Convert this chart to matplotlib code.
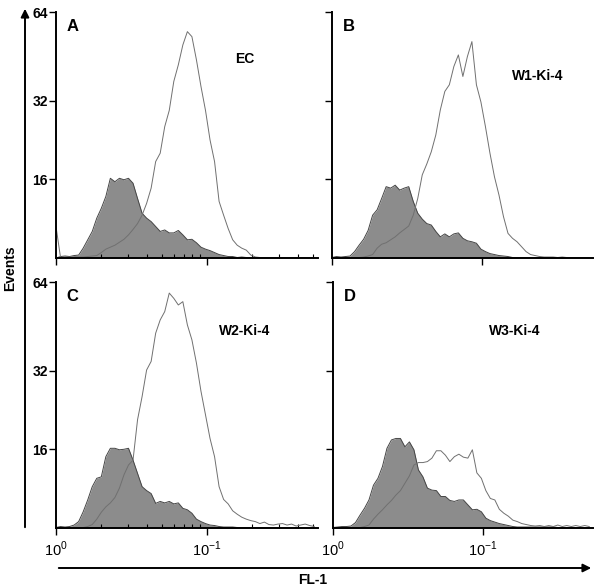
import numpy as np
import matplotlib
matplotlib.use("Agg")
import matplotlib.pyplot as plt
from matplotlib.patches import FancyArrowPatch
from matplotlib.ticker import LogLocator, NullLocator, FixedLocator

plt.rcParams['font.family'] = ['Liberation Sans', 'DejaVu Sans']
plt.rcParams['mathtext.fontset'] = 'custom'
plt.rcParams['mathtext.rm'] = 'Liberation Sans'

# # Data: log10 FL-1 channel positions, events per channel
log_fl = [0.00, 0.03, 0.06, 0.09, 0.12, 0.15, 0.18, 0.21, 0.24, 0.27,
          0.30, 0.33, 0.36, 0.39, 0.42, 0.45, 0.48, 0.51, 0.54, 0.57,
          0.60, 0.63, 0.66, 0.69, 0.72, 0.75, 0.78, 0.81, 0.84, 0.87,
          0.90, 0.93, 0.96, 0.99, 1.02, 1.05, 1.08, 1.11, 1.14, 1.17,
          1.20, 1.23, 1.26, 1.29, 1.32, 1.35, 1.38, 1.41, 1.44, 1.47,
          1.50, 1.53, 1.56, 1.59, 1.62, 1.65, 1.68, 1.71]

panels = ['A', 'B', 'C', 'D']
samples = ['EC', 'W1-Ki-4', 'W2-Ki-4', 'W3-Ki-4']

control = {
    'A': [0.0, 0.3, 0.4, 0.3, 0.5, 0.6, 2.0, 3.7, 5.4, 8.1,
          10.1, 12.5, 16.2, 15.5, 16.2, 15.9, 16.2, 15.2, 12.1, 9.1,
          8.1, 7.4, 6.4, 5.4, 5.7, 5.1, 5.1, 5.6, 4.7, 3.7,
          3.8, 3.1, 2.2, 1.8, 1.5, 1.1, 0.7, 0.5, 0.3, 0.3,
          0.1, 0.2, 0.1, 0.1, 0.0, 0.0, 0.0, 0.0, 0.0, 0.0,
          0.0, 0.0, 0.0, 0.0, 0.0, 0.0, 0.0, 0.0],
    'B': [0.1, 0.3, 0.2, 0.3, 0.4, 1.3, 2.6, 3.8, 5.6, 8.7,
          9.8, 12.1, 14.5, 14.2, 14.8, 13.8, 14.2, 14.5, 11.5, 9.1,
          7.9, 7.0, 6.7, 5.4, 4.3, 4.9, 4.3, 4.9, 5.1, 4.0,
          3.5, 3.3, 3.0, 1.8, 1.3, 0.9, 0.7, 0.5, 0.4, 0.3,
          0.1, 0.1, 0.1, 0.1, 0.1, 0.1, 0.1, 0.1, 0.1, 0.1,
          0.1, 0.1, 0.0, 0.0, 0.0, 0.0, 0.0, 0.0],
    'C': [0.1, 0.3, 0.2, 0.3, 0.6, 1.3, 3.3, 5.7, 8.4, 10.1,
          10.4, 14.5, 16.2, 16.2, 15.9, 16.0, 16.2, 13.8, 11.1, 8.4,
          7.6, 7.0, 5.0, 5.4, 5.1, 5.4, 4.9, 5.1, 4.0, 3.7,
          3.0, 1.8, 1.3, 0.9, 0.6, 0.5, 0.3, 0.2, 0.2, 0.2,
          0.1, 0.1, 0.1, 0.1, 0.1, 0.1, 0.1, 0.1, 0.1, 0.1,
          0.0, 0.0, 0.0, 0.0, 0.0, 0.0, 0.0, 0.0],
    'D': [0.1, 0.2, 0.3, 0.3, 0.4, 1.1, 2.6, 4.0, 5.7, 8.7,
          10.1, 12.5, 16.2, 17.9, 18.2, 18.2, 16.5, 17.5, 15.9, 11.8,
          10.4, 8.1, 7.7, 7.6, 6.4, 6.4, 5.6, 5.4, 5.7, 5.7,
          4.7, 3.7, 3.8, 3.3, 2.0, 1.5, 1.2, 0.9, 0.7, 0.5,
          0.3, 0.2, 0.2, 0.2, 0.2, 0.2, 0.2, 0.2, 0.2, 0.2,
          0.1, 0.1, 0.1, 0.1, 0.0, 0.0, 0.0, 0.0],
}

stained = {
    'A': [6.4, 0.1, 0.1, 0.2, 0.2, 0.2, 0.2, 0.3, 0.4, 0.5,
          1.1, 1.8, 2.2, 2.6, 3.2, 3.8, 4.7, 5.8, 7.0, 8.7,
          11.1, 14.2, 19.6, 21.3, 26.7, 30.0, 38.9, 44.9, 52.1, 56.9,
          55.1, 46.7, 37.1, 30.0, 24.0, 19.6, 11.5, 8.7, 6.0, 3.7,
          2.6, 2.0, 1.6, 0.6, 0.2, 0.1, 0.1, 0.1, 0.0, 0.0,
          0.0, 0.0, 0.0, 0.0, 0.0, 0.0, 0.0, 0.0],
    'B': [0.1, 0.1, 0.1, 0.1, 0.1, 0.1, 0.1, 0.2, 0.4, 0.7,
          2.0, 2.8, 3.1, 3.7, 4.3, 5.1, 5.8, 6.5, 8.7, 12.1,
          16.9, 19.1, 21.6, 25.0, 30.1, 35.3, 37.7, 44.3, 48.5, 40.7,
          47.9, 53.3, 37.7, 31.7, 26.7, 21.3, 16.5, 12.8, 8.4, 5.0,
          4.0, 3.3, 2.3, 1.3, 0.7, 0.5, 0.3, 0.2, 0.2, 0.2,
          0.1, 0.2, 0.1, 0.1, 0.0, 0.0, 0.0, 0.0],
    'C': [0.1, 0.1, 0.1, 0.1, 0.1, 0.1, 0.1, 0.3, 0.7, 1.8,
          3.2, 4.3, 5.1, 6.2, 8.1, 10.8, 12.8, 13.8, 22.0, 26.7,
          32.2, 35.3, 45.5, 50.3, 53.3, 60.0, 58.1, 55.7, 56.9, 48.5,
          43.1, 34.7, 27.8, 23.0, 18.2, 14.5, 8.4, 5.8, 4.9, 3.5,
          2.8, 2.2, 1.8, 1.5, 1.3, 0.9, 1.2, 0.7, 0.6, 0.8,
          0.9, 0.6, 0.8, 0.4, 0.6, 0.8, 0.5, 0.3],
    'D': [0.1, 0.1, 0.1, 0.1, 0.1, 0.1, 0.1, 0.3, 0.6, 1.8,
          2.8, 3.7, 4.7, 5.6, 6.7, 7.6, 9.1, 10.6, 12.8, 13.3,
          13.3, 13.5, 14.2, 15.7, 15.7, 14.8, 13.5, 14.5, 15.0, 14.4,
          14.2, 15.9, 11.2, 10.1, 7.6, 6.0, 5.7, 3.8, 3.0, 2.4,
          1.6, 1.3, 0.9, 0.7, 0.5, 0.4, 0.5, 0.3, 0.5, 0.3,
          0.6, 0.3, 0.5, 0.3, 0.5, 0.3, 0.5, 0.3],
}

y_ticks = [16, 32, 64]
x_ticks = [1, 10]
x_ticklabels = ['$10^{0}$', '$10^{-1}$']


# the events axis is stretched: 16 and 32 sit at 1/3 and 2/3, 64 at the top
def fwd(y):
    y = np.asarray(y, dtype=float)
    return np.where(y <= 32, y / 50.0, 0.64 + (y - 32) * 0.36 / 32)


def inv(t):
    t = np.asarray(t, dtype=float)
    return np.where(t <= 0.64, t * 50.0, 32 + (t - 0.64) * 32 / 0.36)


W, H = 600, 587
fig = plt.figure(figsize=(6, 5.87), dpi=100)

# panel boxes in pixels: left, top, right, bottom
boxes = {'A': (56, 12, 318, 258), 'B': (332, 12, 593, 258),
         'C': (56, 282, 318, 528), 'D': (333, 282, 593, 528)}
label_pos = {'A': (0.72, 0.81), 'B': (0.79, 0.74), 'C': (0.72, 0.80), 'D': (0.70, 0.80)}

x = 10 ** np.array(log_fl)
for name, sample in zip(panels, samples):
    l, t, r, b = boxes[name]
    ax = fig.add_axes([l / W, 1 - b / H, (r - l) / W, (b - t) / H])
    ax.set_xscale('log')
    ax.set_yscale('function', functions=(fwd, inv))

    ax.fill_between(x, control[name], 0, color='#8c8c8c', lw=0)
    ax.plot(x, control[name], color='#454545', lw=0.7)
    ax.plot(x, stained[name], color='#707070', lw=0.7)

    ax.set_xlim(1, 10 ** 1.735)
    ax.set_ylim(0, 64)
    for s in ['top', 'right']:
        ax.spines[s].set_visible(False)
    for s in ['left', 'bottom']:
        ax.spines[s].set_linewidth(1.4)

    ax.yaxis.set_major_locator(FixedLocator(y_ticks))
    ax.yaxis.set_minor_locator(NullLocator())
    ax.xaxis.set_major_locator(FixedLocator(x_ticks))
    if name in ('A', 'C'):
        ax.xaxis.set_minor_locator(LogLocator(base=10, subs=np.arange(2, 10)))
        ax.tick_params(axis='x', which='minor', direction='in', length=3, width=0.8)
    else:
        ax.xaxis.set_minor_locator(NullLocator())
    ax.tick_params(axis='x', which='major', direction='out', length=5, width=1)
    ax.tick_params(axis='y', direction='out', length=5, width=1, pad=1)

    if name in ('A', 'C'):
        ax.set_yticklabels([str(v) for v in y_ticks], fontsize=10, fontweight='bold')
    else:
        ax.set_yticklabels([])
    if name in ('C', 'D'):
        ax.set_xticklabels(x_ticklabels, fontsize=10.5)
    else:
        ax.set_xticklabels([])

    ax.text(0.04, 0.94, name, transform=ax.transAxes, fontsize=12,
            fontweight='bold', ha='left', va='center')
    ax.text(label_pos[name][0], label_pos[name][1], sample, transform=ax.transAxes,
            fontsize=10, fontweight='bold', ha='center', va='center')

# big axis arrows
fig.add_artist(FancyArrowPatch((25 / W, 1 - 530 / H), (25 / W, 1 - 6 / H),
                               transform=fig.transFigure, arrowstyle='-|>',
                               mutation_scale=12, lw=1.4, color='black'))
fig.add_artist(FancyArrowPatch((56 / W, 1 - 568 / H), (594 / W, 1 - 568 / H),
                               transform=fig.transFigure, arrowstyle='-|>',
                               mutation_scale=12, lw=1.4, color='black'))
fig.text(10 / W, 1 - 268 / H, 'Events', rotation=90, ha='center', va='center',
         fontsize=10, fontweight='bold')
fig.text(313 / W, 1 - 580 / H, 'FL-1', ha='center', va='center',
         fontsize=10, fontweight='bold')

fig.savefig('out.png', dpi=100, facecolor='white')
